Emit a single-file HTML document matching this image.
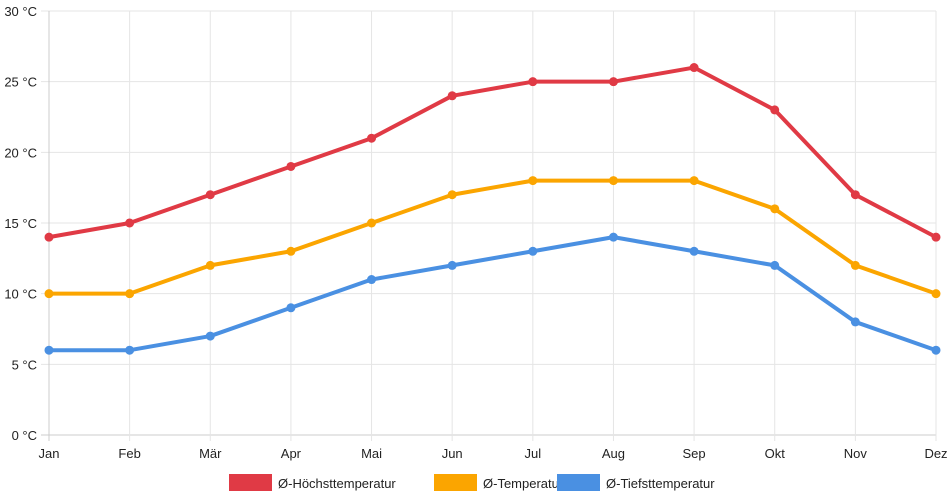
<!DOCTYPE html>
<html><head><meta charset="utf-8"><style>
body{margin:0;background:#fff;font-family:"Liberation Sans",sans-serif}
svg{display:block}
</style></head><body>
<svg id="chart" width="952" height="500" xmlns="http://www.w3.org/2000/svg" font-family="Liberation Sans, sans-serif"></svg>
<script>
const categories=["Jan","Feb","Mär","Apr","Mai","Jun","Jul","Aug","Sep","Okt","Nov","Dez"];
const highTemps=[14,15,17,19,21,24,25,25,26,23,17,14];
const avgTemps=[10,10,12,13,15,17,18,18,18,16,12,10];
const lowTemps=[6,6,7,9,11,12,13,14,13,12,8,6];
const yTicks=[0,5,10,15,20,25,30];
const seriesNames=["Ø-Höchsttemperatur","Ø-Temperatur","Ø-Tiefsttemperatur"];
const colors=["#e03a45","#fba500","#4a90e2"];
const svg=document.getElementById('chart');
const NS="http://www.w3.org/2000/svg";
const x0=49,x1=936,y0=435,y1=11;
const xs=i=>x0+i*(x1-x0)/(categories.length-1);
const ys=v=>y0-(v/30)*(y0-y1);
function mk(t,a,p){const e=document.createElementNS(NS,t);for(const k in a)e.setAttribute(k,a[k]);(p||svg).appendChild(e);return e;}
yTicks.forEach(v=>{
 const l=mk('line',{x1:x0-8,x2:x1,y1:ys(v),y2:ys(v),stroke:v===0?'#ccc':'#e5e5e5','stroke-width':1});
 
 
 const t=mk('text',{x:37,y:ys(v)+5,'text-anchor':'end','font-size':13,fill:'#222'});
 t.textContent=v+' °C';
 
 
});
categories.forEach((c,i)=>{
 const l=mk('line',{x1:xs(i),x2:xs(i),y1:y1,y2:y0+6,stroke:i===0?'#ccc':'#e5e5e5','stroke-width':1});
 
 
 const t=mk('text',{x:xs(i),y:458,'text-anchor':'middle','font-size':13,fill:'#222'});
 t.textContent=c;
 
 
});
[highTemps,avgTemps,lowTemps].forEach((d,s)=>{
 const g=mk('g',{});
 
 
 const p=mk('polyline',{points:d.map((v,i)=>xs(i)+','+ys(v)).join(' '),fill:'none',stroke:colors[s],'stroke-width':4,'stroke-linejoin':'round'},g);
 
 
 d.forEach((v,i)=>{
  const c=mk('circle',{cx:xs(i),cy:ys(v),r:4.5,fill:colors[s]},g);
  
  
 });
});
const lx=[229,434,557];
seriesNames.forEach((n,s)=>{
 const g=mk('g',{});
 
 
 mk('rect',{x:lx[s],y:474,width:43,height:17,fill:colors[s]},g);
 const t=mk('text',{x:lx[s]+49,y:488,'font-size':13,fill:'#222'},g);
 t.textContent=n;
});
</script>
</body></html>
